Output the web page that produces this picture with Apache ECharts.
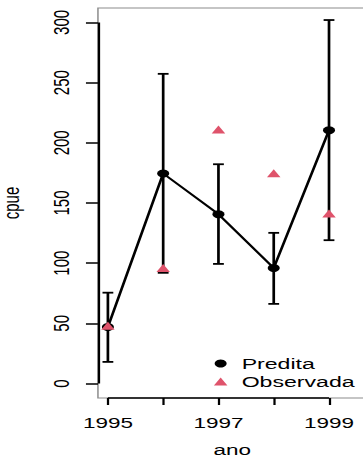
<!DOCTYPE html>
<html><head><meta charset="utf-8">
<script src="https://cdn.jsdelivr.net/npm/echarts@6/dist/echarts.min.js"></script>
<style>
html,body{margin:0;padding:0;overflow:hidden;width:363px;height:458px;background:#fff}
#c{width:250px;height:458px;transform:scaleX(1.5);transform-origin:0 0;}
</style></head><body><div id="c"></div>
<script>
const years=[1995,1996,1997,1998,1999];
const predita=[47,174.5,140.7,96,210.5];
const lower=[18,92,99.4,66.2,119.1];
const upper=[75.5,257.3,182.2,125.2,302];
const observada=[48,96,211,174.8,141.3];
const xTicks=[1995,1996,1997,1998,1999];
const xLabels=[1995,1997,1999];
const yTicks=[0,50,100,150,200,250,300];
const xMin=1994.82, xMax=1999.68, yMin=-12, yMax=312;

const FONT='"Liberation Sans", Arial, sans-serif';
const chart=echarts.init(document.getElementById('c'),null,{renderer:'svg'});
const errData=years.map((y,i)=>[y,lower[i],upper[i]]);
chart.setOption({
  animation:false,
  textStyle:{fontFamily:FONT,color:'#000'},
  grid:{left:65.3,top:8,right:5.6,bottom:60,outerBoundsMode:'none',containLabel:false,show:true,borderColor:'#8c8c8c',borderWidth:1,backgroundColor:'transparent'},
  xAxis:{type:'value',min:xMin,max:xMax,
    name:'ano',nameLocation:'middle',nameGap:44,nameTextStyle:{fontSize:15,fontFamily:FONT,color:'#000'},
    axisLine:{show:false,onZero:false},splitLine:{show:false},
    axisTick:{show:true,length:7,customValues:xTicks,lineStyle:{color:'#000',width:1.5}},
    axisLabel:{customValues:xLabels,fontSize:15,fontFamily:FONT,color:'#000',margin:17,formatter:v=>String(v)}},
  yAxis:{type:'value',min:yMin,max:yMax,
    name:'cpue',nameLocation:'middle',nameGap:50,nameTextStyle:{fontSize:15,fontFamily:FONT,color:'#000'},
    axisLine:{show:false,onZero:false},splitLine:{show:false},
    axisTick:{show:true,length:8,customValues:yTicks,lineStyle:{color:'#000',width:1.5}},
    axisLabel:{customValues:yTicks,rotate:90,fontSize:15,fontFamily:FONT,color:'#000',margin:17,formatter:v=>String(v)}},
  legend:{orient:'vertical',left:142.6,top:356,padding:0,itemGap:3,itemWidth:18,itemHeight:8,
    textStyle:{fontSize:15.4,fontFamily:FONT,color:'#000',lineHeight:15},
    data:[{name:'Predita',icon:'circle'},{name:'Observada',icon:'path://M0,8L4.5,0L9,8Z'}]},
  series:[
    {type:'custom',name:'err',data:errData,z:1,silent:true,
     renderItem:function(params,api){
       const x=api.value(0);
       const lo=api.coord([x,api.value(1)]), hi=api.coord([x,api.value(2)]);
       const w=3.6, st={stroke:'#000',lineWidth:1.8};
       return {type:'group',children:[
         {type:'line',shape:{x1:lo[0],y1:lo[1],x2:hi[0],y2:hi[1]},style:st},
         {type:'line',shape:{x1:lo[0]-w,y1:lo[1],x2:lo[0]+w,y2:lo[1]},style:st},
         {type:'line',shape:{x1:hi[0]-w,y1:hi[1],x2:hi[0]+w,y2:hi[1]},style:st}]};
     }},
    {type:'line',name:'Predita',data:years.map((y,i)=>[y,predita[i]]),z:2,
     symbol:'circle',symbolSize:8,showSymbol:true,
     lineStyle:{color:'#000',width:1.8},itemStyle:{color:'#000'},
     markLine:{silent:true,symbol:'none',label:{show:false},lineStyle:{color:'#000',width:1.5,type:'solid'},
       data:[[{coord:[xTicks[0],yMin]},{coord:[xTicks[xTicks.length-1],yMin]}],
             [{coord:[xMin,yTicks[0]]},{coord:[xMin,yTicks[yTicks.length-1]]}]]}},
    {type:'scatter',name:'Observada',data:years.map((y,i)=>[y,observada[i]]),z:3,
     symbol:'path://M0,8L4.5,0L9,8Z',symbolSize:[9,8],itemStyle:{color:'#DF536B',opacity:1}}
  ]
});
</script></body></html>
